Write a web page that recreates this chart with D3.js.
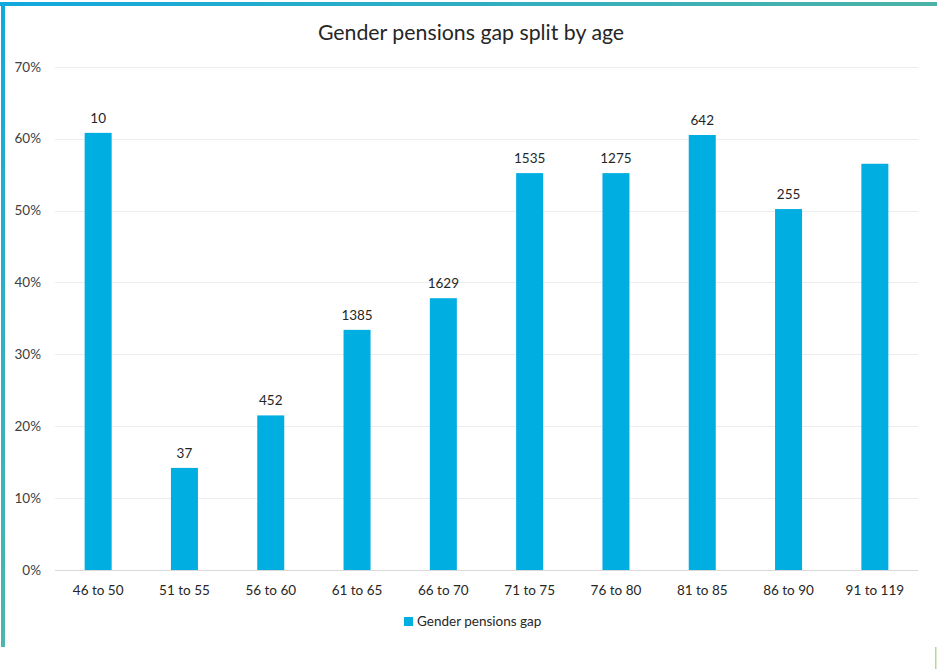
<!DOCTYPE html>
<html><head><meta charset="utf-8">
<script src="https://cdn.jsdelivr.net/npm/d3@7"></script>
<style>body{margin:0;background:#fff;}svg{display:block;font-family:Lato,"Open Sans",sans-serif;}</style>
</head><body>
<svg id="c" width="937" height="669"></svg>
<script>
const categories = ["46 to 50","51 to 55","56 to 60","61 to 65","66 to 70","71 to 75","76 to 80","81 to 85","86 to 90","91 to 119"];
const gapValues = [0.608,0.142,0.215,0.334,0.378,0.552,0.552,0.605,0.502,0.565];
const countLabels = ["10","37","452","1385","1629","1535","1275","642","255",""];
const yTicks = [0,0.1,0.2,0.3,0.4,0.5,0.6,0.7];
const seriesName = "Gender pensions gap";
const chartTitle = "Gender pensions gap split by age";

(function(){
const svg = d3.select("#c");
const defs = svg.append("defs");
const gh = defs.append("linearGradient").attr("id","gh").attr("x1","0").attr("x2","1").attr("y1","0").attr("y2","0");
gh.append("stop").attr("offset","0").attr("stop-color","#12A8DE");
gh.append("stop").attr("offset","1").attr("stop-color","#4CB3A6");
const gv = defs.append("linearGradient").attr("id","gv").attr("x1","0").attr("x2","0").attr("y1","0").attr("y2","1");
gv.append("stop").attr("offset","0").attr("stop-color","#12A8DE");
gv.append("stop").attr("offset","1").attr("stop-color","#4CB7AA");

svg.append("rect").attr("x",0).attr("y",2).attr("width",937).attr("height",4).attr("fill","url(#gh)");
svg.append("rect").attr("x",1).attr("y",2).attr("width",4).attr("height",645).attr("fill","url(#gv)");
svg.append("rect").attr("x",935).attr("y",647).attr("width",1.5).attr("height",22).attr("fill","#b5d99a");

const mLeft=55, mRight=918, mTop=66.7, mBottom=570;
const x = d3.scaleBand().domain(categories).range([mLeft,mRight]).paddingInner(0.687).paddingOuter(0.3435);
const y = d3.scaleLinear().domain([0,0.7]).range([mBottom,mTop]);

svg.append("g").selectAll("line").data(yTicks).join("line")
  .attr("x1",mLeft).attr("x2",mRight)
  .attr("y1",d=>Math.round(y(d))+0.5).attr("y2",d=>Math.round(y(d))+0.5)
  .attr("stroke",d=>d===0?"#d9d9d9":"#ececec").attr("stroke-width",1.2);

svg.append("g").selectAll("text").data(yTicks).join("text")
  .attr("x",41).attr("y",d=>y(d)+4.8).attr("text-anchor","end")
  .attr("font-size",13.5).attr("fill","#404040").text(d3.format(".0%"));

svg.append("g").selectAll("rect").data(categories).join("rect")
  .attr("x",d=>x(d)).attr("width",x.bandwidth())
  .attr("y",(d,i)=>y(gapValues[i])).attr("height",(d,i)=>mBottom-y(gapValues[i]))
  .attr("fill","#00AEE2");

svg.append("g").selectAll("text").data(categories).join("text")
  .attr("x",d=>x(d)+x.bandwidth()/2).attr("y",(d,i)=>y(gapValues[i])-10)
  .attr("text-anchor","middle").attr("font-size",13.5).attr("fill","#262626")
  .text((d,i)=>countLabels[i]);

svg.append("g").selectAll("text").data(categories).join("text")
  .attr("x",d=>x(d)+x.bandwidth()/2).attr("y",595)
  .attr("text-anchor","middle").attr("font-size",13.5).attr("fill","#262626").text(d=>d);

svg.append("text").attr("x",471).attr("y",40).attr("text-anchor","middle")
  .attr("font-size",21.3).attr("fill","#262626").text(chartTitle);

svg.append("rect").attr("x",404).attr("y",617).attr("width",9).attr("height",9).attr("fill","#00AEE2");
svg.append("text").attr("x",417).attr("y",626).attr("font-size",13.5).attr("fill","#262626").text(seriesName);
})();
</script>
</body></html>
